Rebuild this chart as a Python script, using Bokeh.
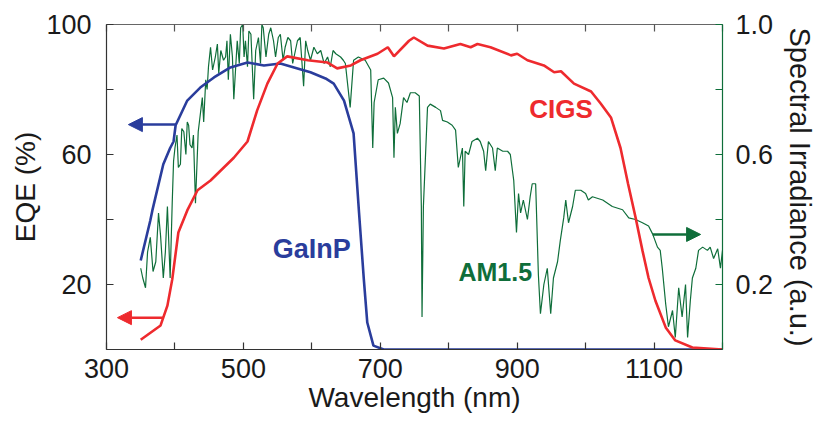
from bokeh.plotting import figure
from bokeh.models import (Range1d, LinearAxis, FixedTicker, NumeralTickFormatter,
                          Arrow, NormalHead, Label)
from bokeh.embed import file_html
from bokeh.resources import INLINE

# ---------------- data ----------------
gainp_nm = [350, 364, 367, 383, 393, 398, 401, 418, 437, 457, 481, 506, 530, 554, 574,
            598, 620, 632, 647, 661, 669, 676, 681, 690, 705, 800, 1000, 1200]
gainp_eqe = [27.4, 39.7, 42.8, 57, 62, 64, 69, 76.6, 80.6, 83.7, 86.8, 88.3, 87.4, 88, 86.8,
             85.3, 83.4, 81.8, 76.6, 66.5, 42, 21.5, 8.3, 1.2, 0, 0, 0, 0]

cigs_nm = [350, 379, 389, 396, 405, 418, 433, 452, 486, 506, 520, 535, 550, 564, 594, 623,
           637, 657, 671, 696, 711, 720, 742, 749, 769, 793, 817, 832, 842, 861, 891, 900,
           915, 939, 954, 964, 983, 1008, 1022, 1037, 1051, 1062, 1073, 1083, 1092, 1102,
           1117, 1131, 1156, 1200]
cigs_eqe = [3, 7.4, 13.5, 21.5, 36, 42.8, 49, 52, 59, 64, 73.5, 81.8, 88, 90.2, 89, 88.3,
            86.5, 87.4, 89, 91, 93, 90.2, 95, 96, 93.5, 92.6, 94, 93, 94, 93, 90.5, 91,
            89, 87.4, 85.3, 85.6, 81.8, 79.4, 75.7, 71.4, 62, 51, 40.6, 30.5, 22, 15,
            6.8, 2.8, 0.6, 0]

# AM1.5 spectral irradiance (normalised)
am15_nm = [350, 353, 357, 360, 364, 368, 372, 376, 379, 383, 386, 389, 393, 396, 398, 400,
           403, 405, 408, 410, 413, 416, 418, 420, 422, 425, 427, 430, 434, 440, 442, 445,
           447, 449, 452, 455, 459, 462, 464, 467, 471, 474, 476, 478, 481, 484, 486, 491,
           494, 496, 499, 501, 503, 506, 508, 511, 515, 518, 522, 525, 527, 529, 533, 537,
           540, 544, 547, 551, 554, 558, 561, 565, 569, 572, 576, 579, 583, 585, 588, 591,
           594, 598, 603, 608, 613, 618, 623, 627, 631, 635, 642, 646, 649, 656, 661, 668,
           678, 686, 689, 691, 697, 705, 712, 718, 720, 722, 725, 729, 734, 739, 744, 751,
           757, 760, 761, 763, 769, 773, 781, 788, 791, 798, 805, 810, 814, 820, 822, 824,
           829, 834, 842, 846, 851, 854, 858, 864, 868, 871, 879, 886, 890, 895, 899, 902,
           905, 909, 915, 919, 922, 927, 931, 934, 939, 944, 949, 953, 959, 963, 968, 971,
           975, 981, 985, 993, 1000, 1004, 1010, 1025, 1039, 1054, 1063, 1073, 1083, 1092,
           1098, 1105, 1109, 1112, 1117, 1121, 1127, 1131, 1136, 1141, 1146, 1149, 1153,
           1156, 1161, 1165, 1171, 1178, 1182, 1187, 1193, 1197, 1200]
am15_irr = [0.25, 0.22, 0.19, 0.30, 0.345, 0.24, 0.27, 0.42, 0.35, 0.22, 0.30, 0.44, 0.22,
            0.45, 0.58, 0.62, 0.66, 0.56, 0.57, 0.68, 0.67, 0.60, 0.70, 0.69, 0.63, 0.62,
            0.66, 0.45, 0.67, 0.775, 0.70, 0.83, 0.80, 0.87, 0.93, 0.86, 0.90, 0.94, 0.85,
            0.92, 0.89, 0.90, 0.95, 0.83, 0.97, 0.90, 0.77, 0.95, 0.88, 0.99, 1.0, 0.90,
            0.95, 0.87, 0.98, 0.97, 0.77, 0.92, 0.96, 0.88, 1.0, 0.99, 0.90, 0.97, 0.99,
            0.95, 0.90, 0.96, 0.97, 0.89, 0.93, 0.96, 0.95, 0.88, 0.92, 0.95, 0.96, 0.90,
            0.81, 0.95, 0.92, 0.89, 0.93, 0.91, 0.92, 0.88, 0.90, 0.87, 0.92, 0.91, 0.90,
            0.89, 0.88, 0.745, 0.89, 0.90, 0.89, 0.86, 0.62, 0.76, 0.83, 0.835, 0.82,
            0.775, 0.59, 0.745, 0.665, 0.695, 0.775, 0.76, 0.79, 0.79, 0.78, 0.44, 0.10,
            0.44, 0.745, 0.755, 0.745, 0.735, 0.705, 0.70, 0.69, 0.675, 0.56, 0.62, 0.44,
            0.61, 0.60, 0.64, 0.65, 0.64, 0.61, 0.55, 0.64, 0.62, 0.55, 0.62, 0.61, 0.61,
            0.60, 0.52, 0.36, 0.48, 0.42, 0.46, 0.40, 0.47, 0.51, 0.51, 0.23, 0.11, 0.20,
            0.25, 0.11, 0.22, 0.27, 0.335, 0.405, 0.46, 0.39, 0.44, 0.49, 0.49, 0.48, 0.46,
            0.47, 0.46, 0.44, 0.43, 0.405, 0.40, 0.39, 0.38, 0.355, 0.315, 0.305, 0.25,
            0.14, 0.07, 0.12, 0.037, 0.19, 0.10, 0.20, 0.037, 0.15, 0.22, 0.25, 0.305,
            0.315, 0.305, 0.315, 0.28, 0.31, 0.25, 0.305]

x_major = [300, 500, 700, 900, 1100]
x_minor = [400, 600, 800, 1000, 1200]
y_major = [20, 60, 100]
y_minor = [0, 40, 80]
r_major = [0.2, 0.6, 1.0]
r_minor = [0.4, 0.8]

BLUE = "#2a3d9c"
RED = "#ee2a2e"
GREEN = "#0f6e3a"
FONT = "Liberation Sans"

# label / arrow positions (data coords)
labels = [("GaInP", 600, 31, BLUE, "27px"), ("CIGS", 964, 74, RED, "26px"),
          ("AM1.5", 868, 24, GREEN, "25px")]
arrows = [(401, 69.2, 332, 69.2, BLUE), (383, 9.8, 316, 9.8, RED),
          (1098, 35.4, 1168, 35.4, GREEN)]

p = figure(width=819, height=423, output_backend="svg", toolbar_location=None,
           x_range=Range1d(300, 1200), y_range=Range1d(0, 100),
           min_border_left=106, min_border_right=97, min_border_top=24, min_border_bottom=74)
p.extra_y_ranges = {"irr": Range1d(0, 1.0)}
p.xgrid.visible = False
p.ygrid.visible = False
p.outline_line_color = None
p.background_fill_color = "white"
p.border_fill_color = "white"

def style(ax, line_color="#333333", tick_color="#333333"):
    ax.axis_line_color = line_color
    ax.axis_line_width = 1.2
    ax.major_tick_in = 7
    ax.major_tick_out = 0
    ax.minor_tick_in = 7
    ax.minor_tick_out = 0
    ax.major_tick_line_color = tick_color
    ax.minor_tick_line_color = tick_color
    ax.major_tick_line_width = 1.2
    ax.minor_tick_line_width = 1.2
    ax.major_label_text_font = FONT
    ax.major_label_text_font_size = "27px"
    ax.major_label_text_color = "#1a1a1a"
    ax.axis_label_text_font = FONT
    ax.axis_label_text_font_size = "28px"
    ax.axis_label_text_font_style = "normal"
    ax.axis_label_text_color = "#1a1a1a"

xax = p.xaxis[0]
xax.ticker = FixedTicker(ticks=x_major, minor_ticks=x_minor)
style(xax)
xax.axis_label = "Wavelength (nm)"
xax.major_label_standoff = 9
xax.axis_label_standoff = 1

yax = p.yaxis[0]
yax.ticker = FixedTicker(ticks=y_major, minor_ticks=y_minor)
style(yax)
yax.axis_label = "EQE (%)"
yax.major_label_standoff = 15
yax.axis_label_standoff = 2

rax = LinearAxis(y_range_name="irr", ticker=FixedTicker(ticks=r_major, minor_ticks=r_minor),
                 formatter=NumeralTickFormatter(format="0.0"))
style(rax, line_color=GREEN, tick_color=GREEN)
rax.axis_label = "Spectral Irradiance (a.u.)"
rax.axis_label_text_font_size = "29px"
rax.major_label_standoff = 13
rax.axis_label_standoff = 8
p.add_layout(rax, "right")

tax = LinearAxis(ticker=FixedTicker(ticks=x_major, minor_ticks=x_minor))
style(tax, line_color="#666666", tick_color="#555555")
tax.major_label_text_font_size = "1px"
tax.major_label_text_color = None
tax.major_label_standoff = 0
p.add_layout(tax, "above")

p.line(am15_nm, am15_irr, y_range_name="irr", line_color=GREEN, line_width=1.2)
p.line(gainp_nm, gainp_eqe, line_color=BLUE, line_width=2.6)
p.line(cigs_nm, cigs_eqe, line_color=RED, line_width=2.6)

for txt, x, y, c, fs in labels:
    p.add_layout(Label(x=x, y=y, text=txt, text_color=c, text_font=FONT,
                       text_font_size=fs, text_font_style="bold",
                       text_align="center", text_baseline="middle"))

for xs, ys, xe, ye, c in arrows:
    p.add_layout(Arrow(x_start=xs, y_start=ys, x_end=xe, y_end=ye, line_color=c, line_width=2.5,
                       end=NormalHead(size=14, fill_color=c, line_color=c)))

open("out.html", "w").write(file_html(p, INLINE))
